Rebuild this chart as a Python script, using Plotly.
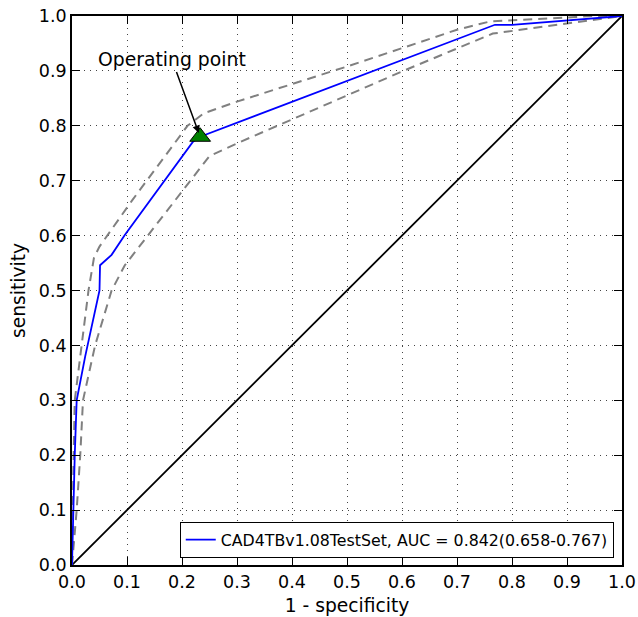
import plotly.graph_objects as go

# ROC curve (1 - specificity, sensitivity)
roc_x = [0, 0.002, 0.005, 0.0085, 0.024, 0.05, 0.05, 0.051, 0.072, 0.096, 0.22, 0.233, 0.769, 0.80, 1.0]
roc_y = [0, 0.10, 0.20, 0.30, 0.38, 0.50, 0.519, 0.546, 0.565, 0.601, 0.771, 0.78, 0.984, 0.984, 1.0]

# confidence band
upper_x = [0, 0.001, 0.003, 0.005, 0.018, 0.03, 0.04, 0.05, 0.11, 0.21, 0.24, 0.30, 0.50, 0.70, 0.76, 0.95, 1.0]
upper_y = [0, 0.10, 0.20, 0.30, 0.40, 0.50, 0.56, 0.58, 0.665, 0.80, 0.823, 0.844, 0.908, 0.975, 0.99, 1.0, 1.0]
lower_x = [0, 0.0085, 0.015, 0.02, 0.042, 0.072, 0.096, 0.22, 0.25, 0.30, 0.50, 0.60, 0.765, 1.0]
lower_y = [0, 0.10, 0.20, 0.30, 0.40, 0.50, 0.546, 0.707, 0.745, 0.768, 0.856, 0.899, 0.968, 1.0]

diag = [0, 1]
op_x = [0.233]
op_y = [0.78]
legend_label = "CAD4TBv1.08TestSet, AUC = 0.842(0.658-0.767)"
tick_vals = [i / 10 for i in range(11)]
tick_text = [f"{v:.1f}" for v in tick_vals]

fig = go.Figure()
fig.add_trace(go.Scatter(x=diag, y=diag, mode="lines", line=dict(color="black", width=1.8), showlegend=False))
fig.add_trace(go.Scatter(x=upper_x, y=upper_y, mode="lines", line=dict(color="#808080", width=2, dash="9px,6px"), showlegend=False))
fig.add_trace(go.Scatter(x=lower_x, y=lower_y, mode="lines", line=dict(color="#808080", width=2, dash="9px,6px"), showlegend=False))
fig.add_trace(go.Scatter(x=roc_x, y=roc_y, mode="lines", line=dict(color="blue", width=1.8), name=legend_label))
fig.add_trace(go.Scatter(x=op_x, y=op_y, mode="markers", marker=dict(symbol="triangle-up", size=18, color="green", line=dict(color="black", width=1)), showlegend=False))

fig.add_annotation(x=op_x[0], y=op_y[0], ax=0.182, ay=0.92, axref="x", ayref="y", xref="x", yref="y",
                   text="Operating point", showarrow=True, arrowhead=2, arrowsize=1, arrowwidth=1.5, arrowcolor="black",
                   standoff=4, font=dict(size=18.8, color="black"))

axis_common = dict(range=[0, 1], tickvals=tick_vals, ticktext=tick_text, ticks="inside", ticklen=8, tickcolor="black",
                   tickwidth=1.2, mirror="ticks", showline=True, linecolor="black", linewidth=1.8, showgrid=True,
                   gridcolor="#444444", griddash="1px,5px", gridwidth=1, zeroline=False, automargin=False,
                   ticklabeloverflow="allow",
                   tickfont=dict(size=17.5, color="black"), title_font=dict(size=18.7, color="black"))

fig.update_xaxes(**axis_common, title_text="1 - specificity", title_standoff=8)
fig.update_yaxes(**axis_common, title_text="sensitivity", title_standoff=8)

fig.update_layout(width=638, height=617, margin=dict(l=72, r=16, t=16, b=52),
                  plot_bgcolor="white", paper_bgcolor="white",
                  font=dict(family="DejaVu Sans", color="black"),
                  legend=dict(x=0.985, y=0.013, xanchor="right", yanchor="bottom", bgcolor="white",
                              bordercolor="black", borderwidth=1, font=dict(size=15.8, color="black")))

# remove the default page margin so the 638x617 figure fills the window exactly
fig.write_html("out.html", config={"displayModeBar": False},
               post_script="document.body.style.margin='0';")
